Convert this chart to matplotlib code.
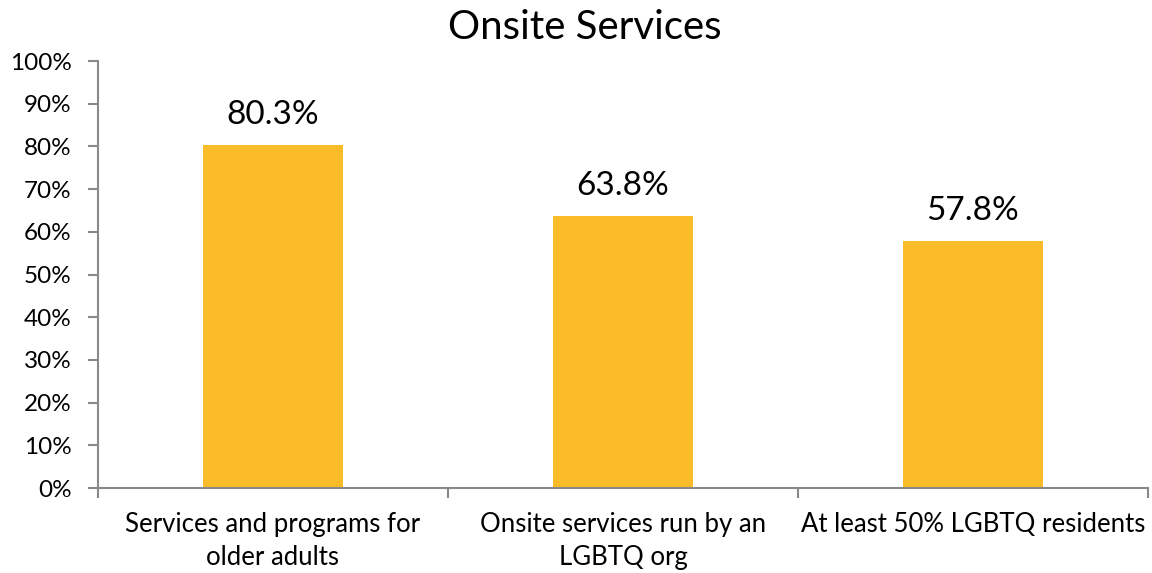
import matplotlib
matplotlib.use('Agg')
import matplotlib.pyplot as plt
import numpy as np
from matplotlib.ticker import PercentFormatter, FixedLocator

plt.rcParams['font.family'] = ['Lato', 'DejaVu Sans']

categories = ['Services and programs for\nolder adults',
              'Onsite services run by an\nLGBTQ org',
              'At least 50% LGBTQ residents']
values = [80.3, 63.8, 57.8]
title = 'Onsite Services'

bar_color = '#FBBC2A'
axis_color = '#898989'

fig = plt.figure(figsize=(11.52, 5.73), dpi=100)
ax = fig.add_axes([0.085, 0.1483, 0.9115, 0.7452])

x = np.arange(len(categories))
ax.bar(x, values, 0.4, color=bar_color, zorder=2)
for xi, v in zip(x, values):
    ax.text(xi, v + 3.5, '%.1f%%' % v, ha='center', va='bottom', fontsize=24)

ax.set_xlim(-0.5, len(categories) - 0.5)
ax.set_ylim(0, 100)
ax.set_yticks(np.arange(0, 101, 10))
ax.yaxis.set_major_formatter(PercentFormatter(decimals=0))

ax.set_xticks(x)
ax.set_xticklabels(categories, fontsize=18.5, linespacing=1.4)
ax.xaxis.set_minor_locator(FixedLocator(np.arange(-0.5, len(categories), 1.0)))
ax.tick_params(axis='x', which='major', length=0, pad=17)
ax.tick_params(axis='x', which='minor', length=7, width=1.5, color=axis_color, direction='out')
ax.tick_params(axis='y', length=7, width=1.5, color=axis_color, labelsize=17.5, pad=12)

for s in ['top', 'right']:
    ax.spines[s].set_visible(False)
for s in ['left', 'bottom']:
    ax.spines[s].set_color(axis_color)
    ax.spines[s].set_linewidth(1.5)

fig.suptitle(title, fontsize=29, y=0.985, va='top', x=0.508)

plt.savefig('out.png', dpi=100)
